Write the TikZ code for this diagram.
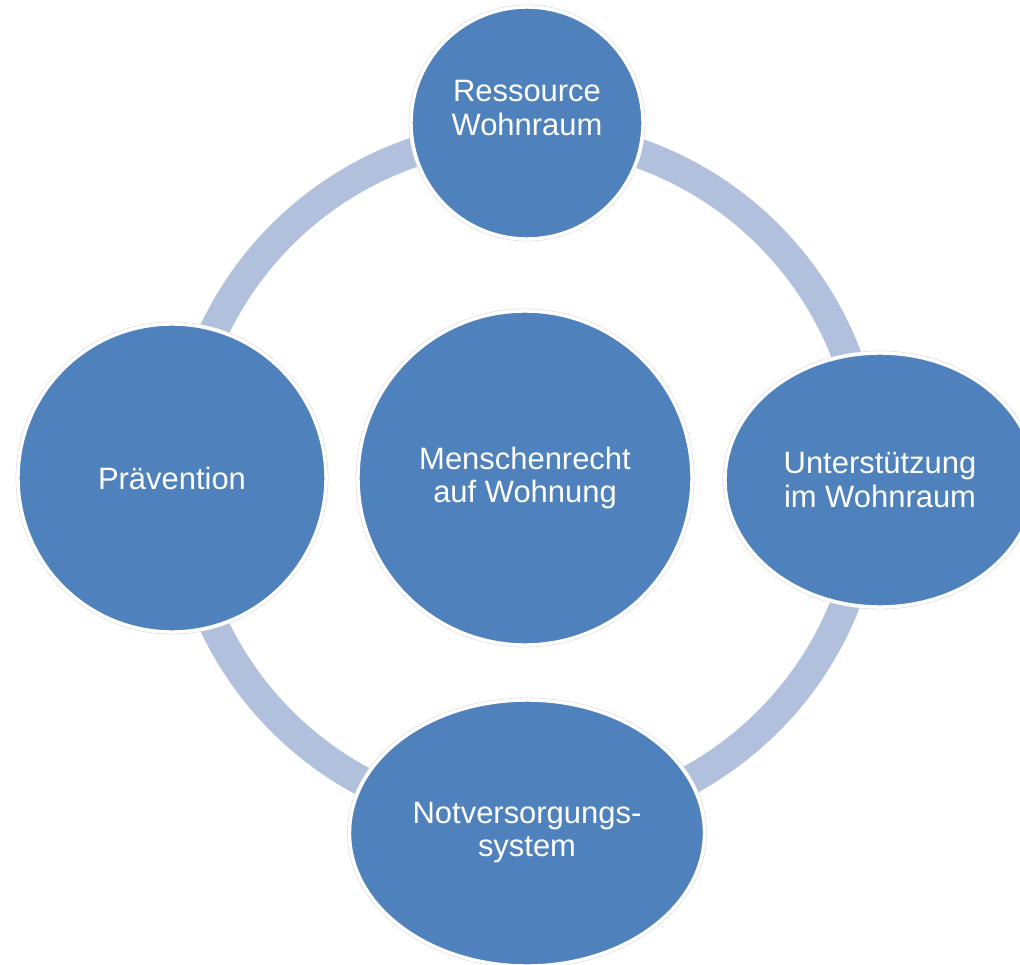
\documentclass[tikz,border=0pt]{standalone}
\usepackage{fontspec}
\setmainfont{Liberation Sans}
\usetikzlibrary{shapes.geometric}

\definecolor{blau}{HTML}{4F81BD}
\definecolor{ringblau}{HTML}{B1C1DD}

\tikzset{kreis/.style = {circle, fill = blau, draw = white, line width = 2.5pt,
                         preaction = {draw = black!15, line width = 3.3pt},
                         text = white, align = center, inner sep = 0pt,
                         font = \fontsize{22}{23.5}\selectfont},
         oval/.style = {kreis, ellipse},
         schrift/.style = {text = white, align = center, inner sep = 0pt,
                           font = \fontsize{22}{23.5}\selectfont}
        }

\begin{document}
\begin{tikzpicture}[x = 0.025cm, y = -0.025cm]
\clip (0,0) rectangle (1020,965);
\coordinate (m) at (525,478);
% Ring hinter den Kreisen
\draw[ringblau, line width = 21pt] (m) circle (344);
\node[kreis, minimum size = 5.8cm] (ressource) at (527,123) {};
\node[schrift] (ressourcetext) at (527,108) {Ressource\\Wohnraum};
\node[kreis, minimum size = 7.7cm] (praevention) at (172,478) {Prävention};
\node[kreis, minimum size = 8.35cm] (menschenrecht) at (m) {Menschenrecht\\auf Wohnung};
\node[oval, minimum width = 7.75cm, minimum height = 6.35cm] (unterstuetzung) at (880,480) {Unterstützung\\im Wohnraum};
\node[oval, minimum width = 8.875cm, minimum height = 6.65cm] (notversorgung) at (527,833) {Notversorgungs-\\system};
\end{tikzpicture}
\end{document}
